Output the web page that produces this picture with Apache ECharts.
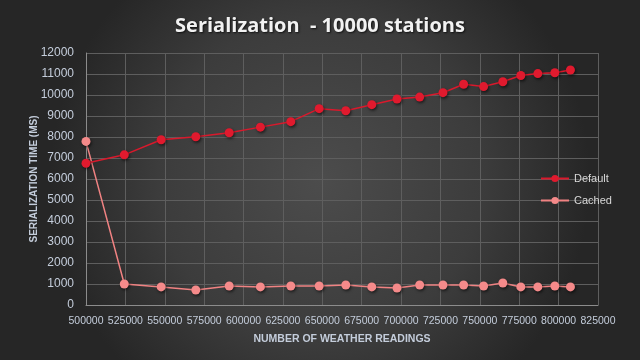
<!DOCTYPE html>
<html>
<head>
<meta charset="utf-8">
<script src="https://cdn.jsdelivr.net/npm/echarts@6/dist/echarts.min.js"></script>
<style>html,body{margin:0;padding:0;background:#333;}#c{width:640px;height:360px;}</style>
</head>
<body>
<div id="c"></div>
<script>
const readings = [500000, 524300, 547700, 569700, 590900, 610700, 630000, 648000, 664900, 681400, 697400, 711800, 726600, 739700, 752400, 764600, 776000, 786800, 797600, 807500];
const defaultTimes = [6750, 7150, 7870, 8010, 8200, 8470, 8730, 9350, 9250, 9540, 9810, 9900, 10110, 10510, 10400, 10630, 10930, 11020, 11060, 11190];
const cachedTimes = [7790, 1000, 860, 715, 905, 860, 905, 905, 955, 860, 810, 955, 955, 955, 905, 1050, 860, 860, 905, 860];
const seriesNames = ['Default', 'Cached'];

const chart = echarts.init(document.getElementById('c'));
const labelColor = '#c4cddb';
const font = '"Liberation Sans", sans-serif';
const pair = (xs, ys) => xs.map((x, i) => [x, ys[i]]);
const shadow = {shadowColor: 'rgba(0,0,0,0.6)', shadowBlur: 3, shadowOffsetX: 1, shadowOffsetY: 1.5};
chart.setOption({
  backgroundColor: {
    type: 'radial', x: 0.5, y: 0.5, r: 0.75,
    colorStops: [{offset: 0, color: '#4c4c4c'}, {offset: 0.6, color: '#3c3c3c'}, {offset: 1, color: '#262626'}]
  },
  animation: false,
  title: {
    text: 'Serialization  - 10000 stations',
    left: 'center', top: 11,
    textStyle: {color: '#f2f2f2', fontSize: 20, fontWeight: 'bold', fontFamily: 'Open Sans',
      textShadowColor: 'rgba(0,0,0,0.7)', textShadowBlur: 2, textShadowOffsetX: 1, textShadowOffsetY: 1}
  },
  grid: {left: 86, right: 42, top: 53, bottom: 55},
  legend: {
    orient: 'vertical', left: 535, top: 168, itemGap: 11, itemWidth: 28, itemHeight: 9,
    textStyle: {color: '#d9d9d9', fontSize: 11, fontFamily: font},
    data: seriesNames
  },
  xAxis: {
    type: 'value', min: 500000, max: 825000, interval: 25000,
    name: 'NUMBER OF WEATHER READINGS', nameLocation: 'middle', nameGap: 29,
    nameTextStyle: {color: labelColor, fontSize: 10.5, fontWeight: 'bold', fontFamily: font},
    axisLine: {lineStyle: {color: '#8c8c8c'}},
    axisTick: {show: false},
    axisLabel: {color: labelColor, fontSize: 10.5, fontFamily: font, margin: 11,
      showMinLabel: true, showMaxLabel: true, hideOverlap: false, formatter: v => String(v)},
    splitLine: {show: true, lineStyle: {color: '#5e5e5e', width: 1}}
  },
  yAxis: {
    type: 'value', min: 0, max: 12000, interval: 1000,
    name: 'SERIALIZATION TIME (MS)', nameLocation: 'middle', nameGap: 47, nameRotate: 90,
    nameMoveOverlap: false,
    nameTextStyle: {color: labelColor, fontSize: 10, fontWeight: 'bold', fontFamily: font},
    axisLine: {show: true, lineStyle: {color: '#8c8c8c'}},
    axisTick: {show: false},
    axisLabel: {color: labelColor, fontSize: 12, fontFamily: font, margin: 12, formatter: v => String(v)},
    splitLine: {lineStyle: {color: '#5e5e5e', width: 1}}
  },
  series: [
    {
      name: seriesNames[0], type: 'line', data: pair(readings, defaultTimes),
      symbol: 'circle', symbolSize: 9, z: 3,
      lineStyle: {color: '#d9192c', width: 1.5},
      itemStyle: Object.assign({color: '#e01a2e'}, shadow)
    },
    {
      name: seriesNames[1], type: 'line', data: pair(readings, cachedTimes),
      symbol: 'circle', symbolSize: 9, z: 2,
      lineStyle: {color: '#f08282', width: 1.5},
      itemStyle: Object.assign({color: '#f58a8a'}, shadow)
    }
  ]
});
</script>
</body>
</html>
